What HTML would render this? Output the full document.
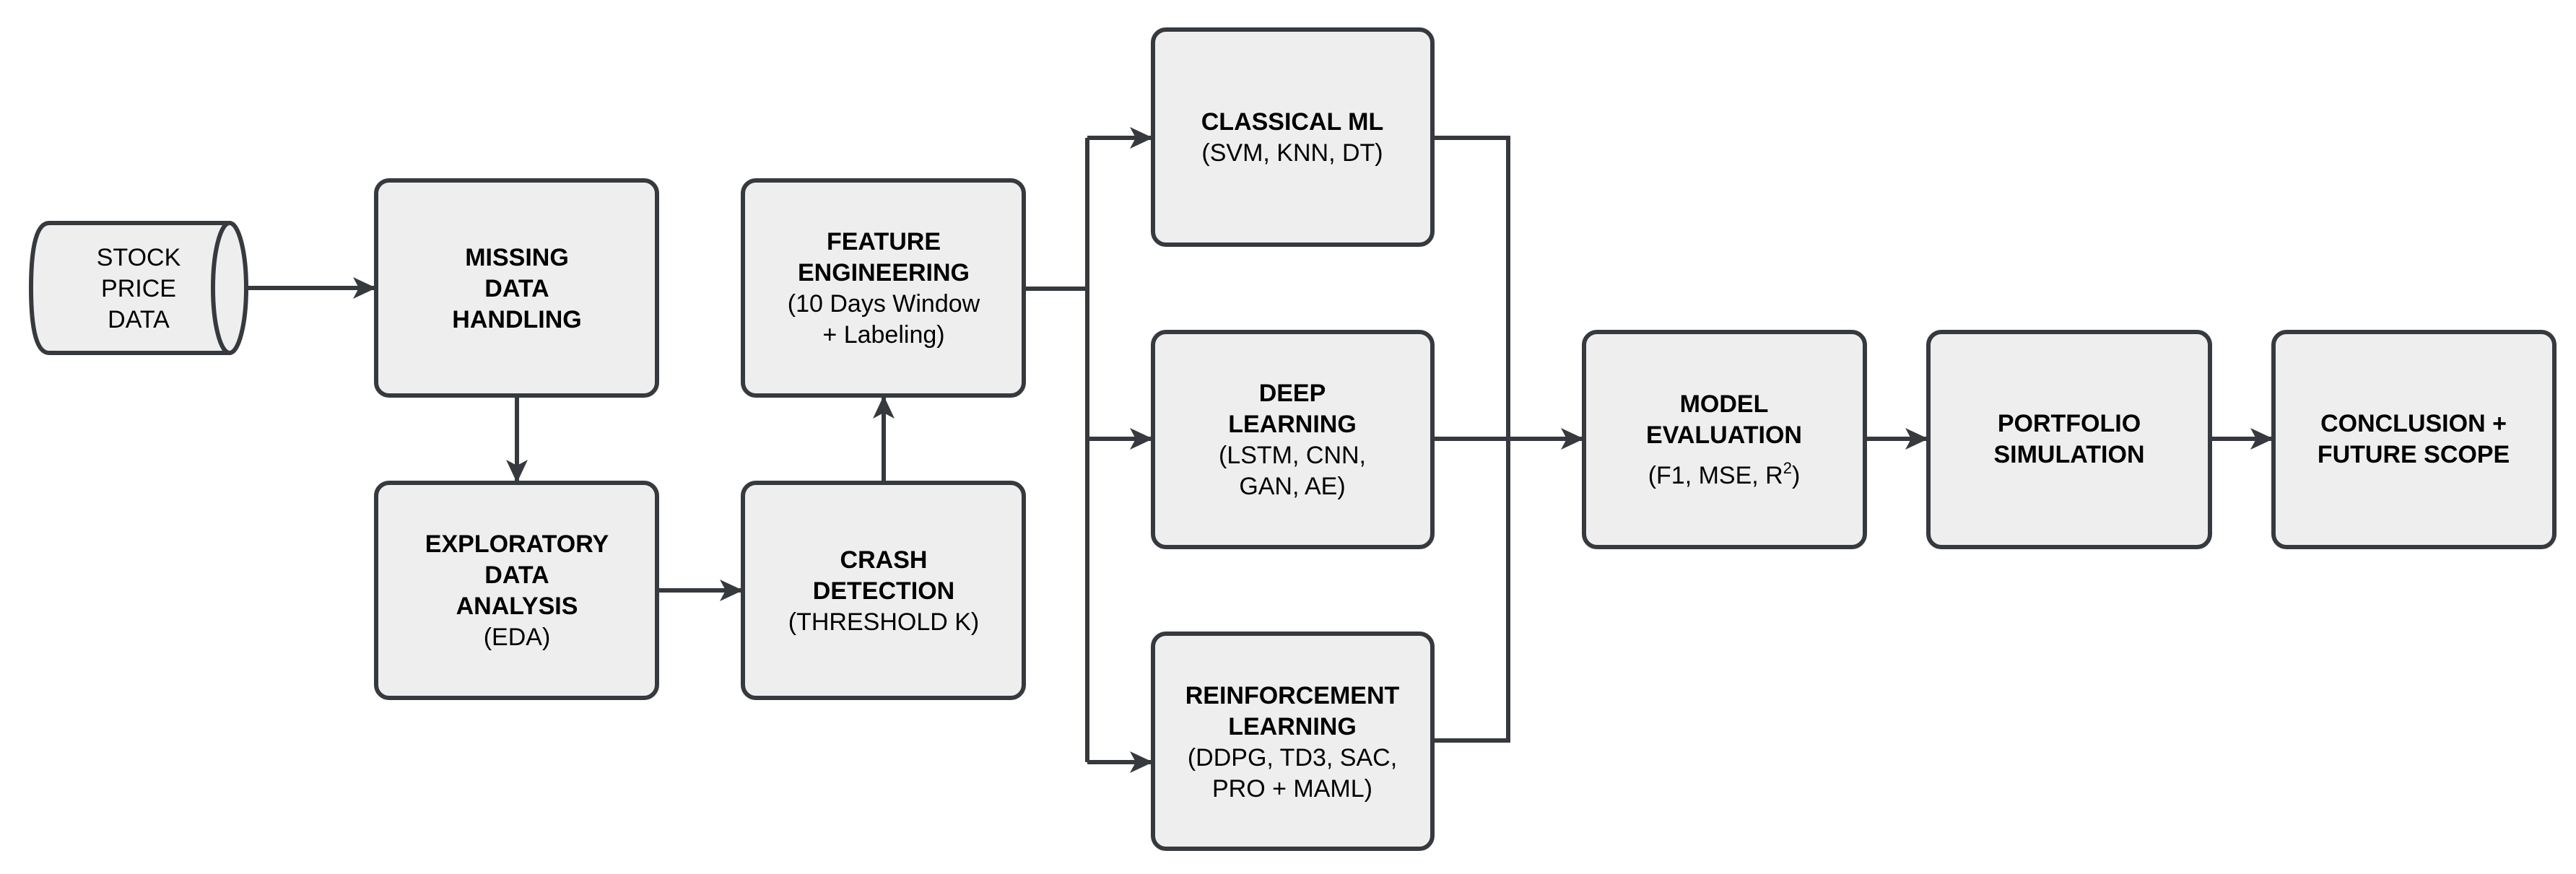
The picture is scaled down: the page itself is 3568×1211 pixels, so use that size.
<!DOCTYPE html>
<html><head><meta charset="utf-8"><style>
html,body{margin:0;padding:0;background:#fff;}
svg{display:block}
text{font-family:"Liberation Sans",Arial,sans-serif;font-size:34px;fill:#000;text-anchor:middle}
.b{font-weight:bold}
</style></head><body>
<svg width="3568" height="1211" viewBox="0 0 3568 1211" xmlns="http://www.w3.org/2000/svg">
<defs>
<marker id="a" viewBox="0 0 32 30" refX="30" refY="15" markerWidth="32" markerHeight="30" markerUnits="userSpaceOnUse" orient="auto">
<path d="M0,0 L32,15 L0,30 L8,15 Z" fill="#36393d"/>
</marker>
</defs>
<g fill="#eeeeee" stroke="#36393d" stroke-width="6">
<path d="M320,309 L68,309 Q43,309 43,399 Q43,489 68,489 L320,489"/>
<ellipse cx="318" cy="399" rx="23" ry="90"/>
<rect x="521" y="250" width="389" height="298" rx="18"/>
<rect x="521" y="669" width="389" height="298" rx="18"/>
<rect x="1029" y="250" width="389" height="298" rx="18"/>
<rect x="1029" y="669" width="389" height="298" rx="18"/>
<rect x="1597" y="41" width="387" height="298" rx="18"/>
<rect x="1597" y="460" width="387" height="298" rx="18"/>
<rect x="1597" y="878" width="387" height="298" rx="18"/>
<rect x="2194" y="460" width="389" height="298" rx="18"/>
<rect x="2671" y="460" width="390" height="298" rx="18"/>
<rect x="3149" y="460" width="389" height="298" rx="18"/>
</g>
<g fill="none" stroke="#36393d" stroke-width="6">
<path d="M341,399 L519,399" marker-end="url(#a)"/>
<path d="M716,548 L716,667" marker-end="url(#a)"/>
<path d="M910,818 L1027,818" marker-end="url(#a)"/>
<path d="M1224,669 L1224,550" marker-end="url(#a)"/>
<path d="M1418,400 L1506,400"/>
<path d="M1506,191 L1506,1056"/>
<path d="M1506,191 L1595,191" marker-end="url(#a)"/>
<path d="M1506,608 L1595,608" marker-end="url(#a)"/>
<path d="M1506,1056 L1595,1056" marker-end="url(#a)"/>
<path d="M1984,191 L2089,191 L2089,1026 L1984,1026"/>
<path d="M1984,608 L2192,608" marker-end="url(#a)"/>
<path d="M2583,608 L2669,608" marker-end="url(#a)"/>
<path d="M3061,608 L3147,608" marker-end="url(#a)"/>
</g>
<text x="192" y="368">STOCK</text>
<text x="192" y="411">PRICE</text>
<text x="192" y="454">DATA</text>
<text class="b" x="716" y="368">MISSING</text>
<text class="b" x="716" y="411">DATA</text>
<text class="b" x="716" y="454">HANDLING</text>
<text class="b" x="716" y="765">EXPLORATORY</text>
<text class="b" x="716" y="808">DATA</text>
<text class="b" x="716" y="851">ANALYSIS</text>
<text x="716" y="894">(EDA)</text>
<text class="b" x="1224" y="346">FEATURE</text>
<text class="b" x="1224" y="389">ENGINEERING</text>
<text x="1224" y="432">(10 Days Window</text>
<text x="1224" y="475">+ Labeling)</text>
<text class="b" x="1224" y="787">CRASH</text>
<text class="b" x="1224" y="830">DETECTION</text>
<text x="1224" y="873">(THRESHOLD K)</text>
<text class="b" x="1790" y="180">CLASSICAL ML</text>
<text x="1790" y="223">(SVM, KNN, DT)</text>
<text class="b" x="1790" y="556">DEEP</text>
<text class="b" x="1790" y="599">LEARNING</text>
<text x="1790" y="642">(LSTM, CNN,</text>
<text x="1790" y="685">GAN, AE)</text>
<text class="b" x="1790" y="975">REINFORCEMENT</text>
<text class="b" x="1790" y="1018">LEARNING</text>
<text x="1790" y="1061">(DDPG, TD3, SAC,</text>
<text x="1790" y="1104">PRO + MAML)</text>
<text class="b" x="2388" y="571">MODEL</text>
<text class="b" x="2388" y="614">EVALUATION</text>
<text x="2388" y="670">(F1, MSE, R<tspan font-size="22" dy="-14">2</tspan><tspan dy="14">)</tspan></text>
<text class="b" x="2866" y="598">PORTFOLIO</text>
<text class="b" x="2866" y="641">SIMULATION</text>
<text class="b" x="3343" y="598">CONCLUSION +</text>
<text class="b" x="3343" y="641">FUTURE SCOPE</text>
</svg>
</body></html>
